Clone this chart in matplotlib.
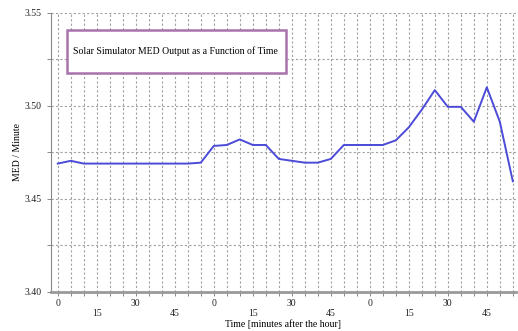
import matplotlib.pyplot as plt
from matplotlib.patches import Rectangle
from matplotlib.ticker import MultipleLocator, FixedLocator, FixedFormatter

# minutes since start of run, every 5 minutes
minutes = list(range(0, 180, 5))
med_per_min = [3.469, 3.4705, 3.469, 3.469, 3.469, 3.469, 3.469, 3.469,
               3.469, 3.469, 3.469, 3.4695, 3.4785, 3.479, 3.482, 3.479,
               3.479, 3.4715, 3.4705, 3.4695, 3.4695, 3.4715, 3.479, 3.479,
               3.479, 3.479, 3.4815, 3.4885, 3.498, 3.5085, 3.4995, 3.4995,
               3.4915, 3.510, 3.4915, 3.4595]

label_pos = list(range(0, 180, 15))
label_txt = [str(m % 60) if (m // 15) % 2 == 0 else "\n" + str(m % 60) for m in label_pos]

plt.rcParams['font.family'] = ['Liberation Serif', 'DejaVu Serif']

fig = plt.figure(figsize=(5.18, 3.31), dpi=100, facecolor='white')
ax = fig.add_axes([0.098, 0.118, 0.898, 0.843])

ax.plot(minutes, med_per_min, color='#4b4bd8', lw=1.4, zorder=3)

ax.set_xlim(-2.7, 176.2)
ax.set_ylim(3.40, 3.55)

ax.xaxis.set_major_locator(FixedLocator(label_pos))
ax.xaxis.set_major_formatter(FixedFormatter(label_txt))
ax.xaxis.set_minor_locator(MultipleLocator(5))
ax.yaxis.set_major_locator(MultipleLocator(0.05))
ax.yaxis.set_minor_locator(MultipleLocator(0.025))
ax.yaxis.set_major_formatter(plt.FuncFormatter(lambda v, p: '%.2f' % v))

ax.grid(which='both', color='#a0a0a0', ls=(0, (2, 2)), lw=0.8)
ax.tick_params(axis='both', which='both', labelsize=7, colors='#888888',
               labelcolor='#222222', length=3, width=0.7)
ax.tick_params(axis='x', pad=2)

for s in ['top', 'right']:
    ax.spines[s].set_visible(False)
ax.spines['left'].set_color('#888888')
ax.spines['bottom'].set_color('#999999')
ax.spines['bottom'].set_linewidth(2)

ax.set_xlabel('Time [minutes after the hour]', fontsize=7, labelpad=1)
ax.set_ylabel('MED / Minute', fontsize=7, labelpad=2)

# title box
ax.add_patch(Rectangle((0.0344, 0.785), 0.4706, 0.154, transform=ax.transAxes,
                       fc='white', ec='#a872ac', lw=1.8, zorder=4))
ax.text(0.047, 0.862, 'Solar Simulator MED Output as a Function of Time',
        transform=ax.transAxes, fontsize=7, va='center', ha='left', zorder=5)

fig.savefig('out.png', dpi=100)
